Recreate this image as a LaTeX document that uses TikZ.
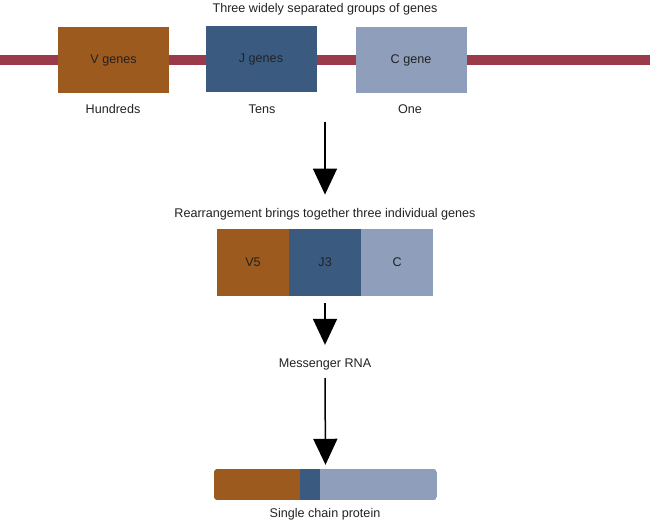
\documentclass[tikz,border=0pt]{standalone}
\usepackage{fontspec}
\setmainfont{Liberation Sans}
\usetikzlibrary{arrows.meta}
\definecolor{vcol}{HTML}{9C5A1E}
\definecolor{jcol}{HTML}{3B5A80}
\definecolor{ccol}{HTML}{8E9EBB}
\definecolor{dnacol}{HTML}{9B3A4A}
\definecolor{txtcol}{HTML}{222222}

\begin{document}
\begin{tikzpicture}[x=1pt, y=-1pt, every node/.style={font=\fontsize{12.6}{14}\selectfont, text=txtcol},
    gene/.style={inner sep=0pt, minimum width=111pt, minimum height=66pt},
    seg/.style={inner sep=0pt, minimum width=71.7pt, minimum height=67pt},
    bigarrow/.style={line width=1.5pt, -{Triangle[width=24pt,length=26pt]}}]
    \useasboundingbox (0,0) rectangle (650,524);
    % chromosome strand
    \fill[dnacol] (0,55.5) rectangle (650,65.5);
    \node (title) at (325,9.5) {Three widely separated groups of genes};
    \node[gene, fill=vcol] (vg) at (113.5,60) {V genes};
    \node[gene, fill=jcol] (jg) at (261,59) {J genes};
    \node[gene, fill=ccol] (cg) at (411,60.5) {C gene};
    \node (hund) at (113,109) {Hundreds};
    \node (tens) at (262,109) {Tens};
    \node (one) at (410,109) {One};
    % rearranged DNA
    \node (rear) at (325,214) {Rearrangement brings together three individual genes};
    \node[seg, fill=vcol] (v5) at (253,262.5) {V5};
    \node[seg, fill=jcol, anchor=west] (j3) at (v5.east) {J3};
    \node[seg, fill=ccol, anchor=west] (c) at (j3.east) {C};
    \node (mrna) at (325,364) {Messenger RNA};
    % protein
    \node[inner sep=0pt, minimum width=223pt, minimum height=31pt] (prot) at (325.5,484.5) {};
    \begin{scope}
      \clip[rounded corners=4pt] (prot.north west) rectangle (prot.south east);
      \fill[ccol] (prot.north west) rectangle (prot.south east);
      \fill[vcol] (prot.north west) rectangle ([xshift=86pt]prot.south west);
      \fill[jcol] ([xshift=86pt]prot.north west) rectangle ([xshift=106pt]prot.south west);
    \end{scope}
    \node (single) at (325,514) {Single chain protein};
    \coordinate (a1) at (325,122);
    \coordinate (a2) at (325,303);
    \coordinate (a3) at (325,378);
    \draw[bigarrow] (a1) -- ([yshift=10pt]rear.north);
    \draw[bigarrow] (a2) -- ([yshift=10pt]mrna.north);
    \draw[bigarrow] (a3) -- ([yshift=4pt]prot.north);
\end{tikzpicture}
\end{document}
